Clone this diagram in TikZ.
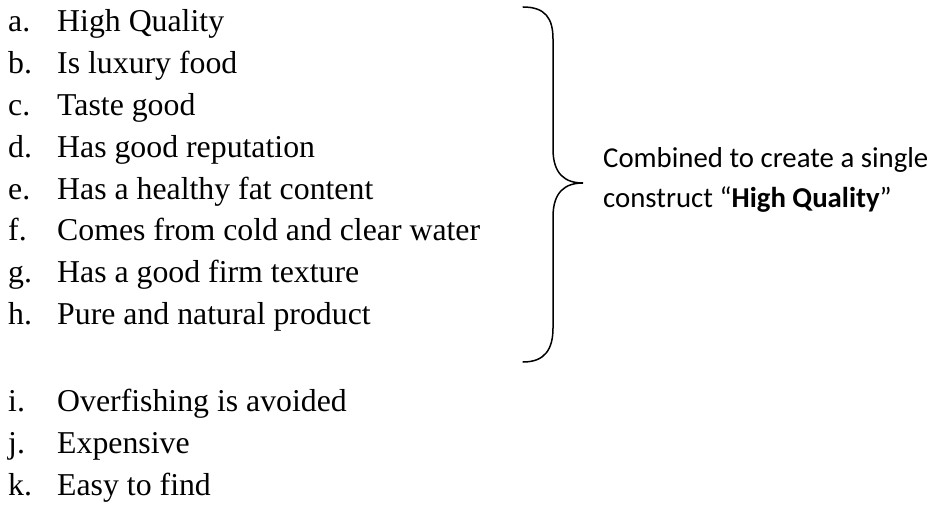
\documentclass[tikz,border=0pt]{standalone}
\usepackage{fontspec}
\setmainfont{Liberation Serif}
\newfontfamily\calfont{Carlito}
\begin{document}
\begin{tikzpicture}[x=1pt,y=1pt,
  lbl/.style={anchor=base west,inner sep=0pt,font=\fontsize{31.8}{38}\selectfont},
  itm/.style={anchor=base west,inner sep=0pt,font=\fontsize{31.8}{38}\selectfont},
  note/.style={anchor=base west,inner sep=0pt,font=\calfont\fontsize{28.8}{36}\selectfont},
  bracefig/.style={line width=1.5pt,line cap=round}]
\useasboundingbox (0,0) rectangle (939,504);
\foreach \l/\t/\y [count=\i] in {a/High Quality/32, b/Is luxury food/73.8, c/Taste good/115.6, d/Has good reputation/157.4, e/Has a healthy fat content/199.2, f/Comes from cold and clear water/241, g/Has a good firm texture/282.8, h/Pure and natural product/324.6, i/Overfishing is avoided/411, j/Expensive/453, k/Easy to find/495}{
  \node[lbl] (l\i) at (8,504-\y) {\l.};
  \node[itm] (t\i) at (57,504-\y) {\t};
}
\draw[bracefig] (523,497) .. controls (545,497) and (553,486) .. (553,465)
  -- (553,355) .. controls (553,330) and (565,321) .. (583,321)
  .. controls (565,321) and (553,312) .. (553,287)
  -- (553,176) .. controls (553,155) and (545,142) .. (523,142);
\node[note] (n1) at (603,504-168) {Combined to create a single};
\node[note] (n2) at (603,504-208) {construct “\textbf{High Quality}”};
\end{tikzpicture}
\end{document}
